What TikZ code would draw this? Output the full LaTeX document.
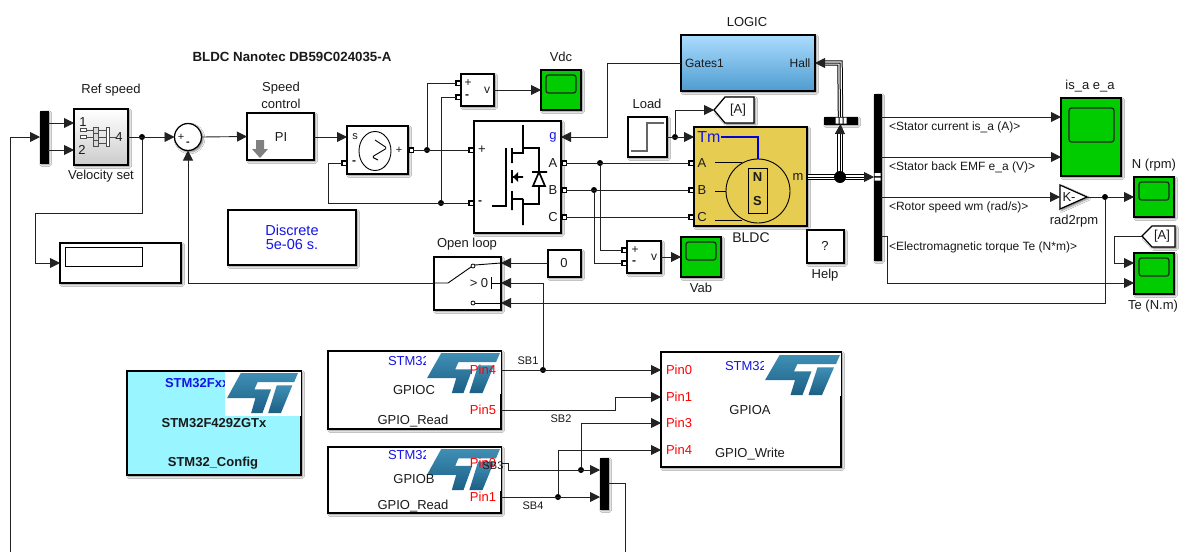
\documentclass[tikz,border=0pt]{standalone}
\usepackage{fontspec}
\setmainfont{Liberation Sans}
\usetikzlibrary{arrows.meta,shadows.blur,calc,shapes.geometric}
\definecolor{lc}{HTML}{222222}
\definecolor{tc}{HTML}{1A1A1A}
\definecolor{scopegreen}{HTML}{00CC00}
\definecolor{motorY}{HTML}{E6CC50}
\definecolor{blueT}{HTML}{1414E6}
\definecolor{logoT}{HTML}{3F8FB5}
\definecolor{logoB}{HTML}{1C5F85}
\definecolor{logicT}{HTML}{ACDCFF}
\definecolor{logicB}{HTML}{4E9CD0}
\definecolor{cfgC}{HTML}{99F5FF}
\newcount\tcnt
\newcommand\fs[1]{\fontsize{#1}{#1}\selectfont}
\newcommand\tx[4][]{\global\advance\tcnt by 1\relax\node[txt,#1] (t\the\tcnt) at (#2,#3) {#4};}
\newcommand\blk[6]{\pgfmathsetmacro\bw{#5-(#3)}\pgfmathsetmacro\bh{#6-(#4)}%
 \node[blockbase,#1,minimum width=\bw pt,minimum height=\bh pt] (#2) at ({(#3+#5)/2},{(#4+#6)/2}) {};}
\newcommand\scopeblk[9]{\blk{fill=scopegreen}{#1}{#2}{#3}{#4}{#5}%
 \draw[line width=1.3pt,rounded corners=2.5pt,draw=black!85] (#6,#7) rectangle (#8,#9);}
\newcommand\stlogo[4]{\begin{scope}[shift={(#1,#2)},x=#3pt,y=-#4pt]
 \shade[top color=logoT,bottom color=logoB]
  (.195,0)--(1,0)--(.945,.23)--(.43,.23)--(.386,.41)--(.62,.41)--(.50,1)--(.34,1)--(.40,.63)--(0,.63)--cycle;
 \shade[top color=logoT,bottom color=logoB]
  (.70,.31)--(.92,.31)--(.76,1)--(.58,1)--cycle;
 \end{scope}}
\tikzset{
 txt/.style={inner sep=0,outer sep=0,text=tc,font=\fs{13}},
 sig/.style={txt,font=\fs{12},anchor=west},
 conn/.style={draw=lc,line width=.9pt},
 arr/.style={conn,-{Triangle[length=10pt,width=10pt]}},
 shad/.style={blur shadow={shadow xshift=1.6pt,shadow yshift=-1.6pt,shadow blur radius=1.8pt,shadow opacity=50}},
 blockbase/.style={draw=black,line width=1.25pt,fill=white,inner sep=0,outer sep=0,shad},
 bar/.style={draw=black,fill=black,line width=.5pt},
 junction/.style={circle,fill=black,inner sep=0,outer sep=0,minimum size=6pt},
 portsq/.style={draw=black,fill=white,line width=1.2pt,inner sep=0,outer sep=0,minimum size=4.2pt},
 icon/.style={draw=black,line width=1.7pt},
 thin icon/.style={draw=black!70,line width=.7pt},
 bus/.style={draw=black,line width=5.4pt,postaction={draw=white,line width=3.4pt},postaction={draw=black,line width=1pt}},
}
\begin{document}
\begin{tikzpicture}[x=1pt,y=-1pt]
\fill[white] (0,0) rectangle (1179,552);
\useasboundingbox (0,0) rectangle (1179,552);

% ---------- title
\tx[font=\bfseries\fs{13.3}]{292}{57}{BLDC Nanotec DB59C024035-A}

% ---------- mux and reference
\blk{bar}{mux1}{40}{111}{48}{163}
\blk{top color=white,bottom color=black!20}{ref}{74}{109}{128}{165}
\tx{111}{90}{Ref speed}
\tx{101}{176}{Velocity set}
\tx{83}{122}{1}
\tx{82}{150}{2}
\tx{119}{137}{4}
\draw[thin icon] (83,130)--(93,130) (83,137)--(93,137) (98,130)--(107,130) (98,137)--(107,137) (98,143)--(107,143) (109,137)--(117,137);
\draw[thin icon,fill=white] (80,128.8) rectangle (86,131.2) (80,135.8) rectangle (86,138.2);
\draw[thin icon,fill=black!15] (93,127) rectangle (98.5,133.5) (93,133.5) rectangle (98.5,140) (93,140) rectangle (98.5,146.5);
\draw[thin icon,fill=white] (106,127) rectangle (109,146);

% ---------- sum, PI
\node[circle,draw=black,line width=1.25pt,fill=white,inner sep=0,outer sep=0,minimum size=27pt,shad] (sum) at (188,137) {};
\tx[font=\fs{11}]{181}{137}{+}
\tx[font=\bfseries\fs{11}]{188}{144}{-}
\blk{}{pi}{247}{113}{314}{160}
\tx{281}{88}{Speed}
\tx{281}{104}{control}
\tx{281}{137}{PI}
\fill[black!50] (256,140)--(264,140)--(264,149)--(268,149)--(260,158)--(252,149)--(256,149)--cycle;

% ---------- display and powergui
\blk{}{disp}{60}{243}{181}{283}
\draw[line width=.9pt,draw=black] (65,247) rectangle (142,266);
\blk{}{gui}{228}{210}{356}{265}
\tx[text=blueT,font=\fs{14.5}]{292}{230}{Discrete}
\tx[text=blueT,font=\fs{14.5}]{292}{245}{5e-06 s.}

% ---------- controlled voltage source
\blk{}{src}{347}{126}{408}{174}
\node[ellipse,draw=black,line width=.9pt,inner sep=0,outer sep=0,minimum width=32pt,minimum height=39pt] (srccirc) at (375,151) {};
\draw[line width=.9pt,draw=black,rounded corners=1.5pt] (375,140)--(387,148)--(372,157)--(378,160);
\tx[font=\fs{11}]{355}{137}{s}
\tx[font=\bfseries\fs{12}]{354}{163}{-}
\tx[font=\fs{11}]{399}{150}{+}
\node[portsq] (srcm) at (344,163) {};
\node[portsq] (srcp) at (411,150) {};

% ---------- voltmeter Vdc
\blk{}{vm}{461}{74}{494}{106}
\tx[font=\fs{12}]{468}{83}{+}
\tx[font=\bfseries\fs{12}]{467}{97}{-}
\tx[font=\fs{12}]{487}{90}{v}
\node[portsq] (vmp) at (458,83) {};
\node[portsq] (vmm) at (458,97) {};
\scopeblk{vdc}{541}{70}{581}{110}{546}{75}{576}{93}
\tx{561}{57}{Vdc}

% ---------- inverter
\blk{}{inv}{474}{121}{561}{233}
\node[portsq] (invp) at (471,150) {};
\node[portsq] (invm) at (471,203) {};
\node[portsq] (pa) at (564,163) {};
\node[portsq] (pb) at (564,190) {};
\node[portsq] (pc) at (564,217) {};
\tx[text=blueT]{553}{137}{g}
\tx{482}{150}{+}
\tx[font=\bfseries\fs{12}]{480}{203}{-}
\tx{553}{163}{A}
\tx{553}{190}{B}
\tx{553}{217}{C}
\draw[icon] (523,125)--(523,153)--(512,153) (523,148)--(539,148)--(539,172) (532,172)--(547,172)
 (539,172)--(533,186)--(545,186)--cycle (539,186)--(539,204)--(523,204)
 (506,148)--(506,206)--(492,206) (512,148)--(512,163) (512,170)--(512,183) (512,191)--(512,210)
 (512,199)--(523,199) (523,199)--(523,225) (513,177)--(523,177);
\fill[black] (513,177)--(518,172)--(518,182)--cycle;

% ---------- LOGIC
\blk{top color=logicT,bottom color=logicB}{logic}{681}{35}{815}{91}
\tx{747}{22}{LOGIC}
\tx[font=\fs{12}]{704.5}{63}{Gates1}
\tx[font=\fs{12}]{800}{63}{Hall}

% ---------- step and goto
\blk{}{load}{628}{117}{667}{157}
\tx{647}{104}{Load}
\draw[draw=black!60,line width=1.2pt] (631,151)--(647,151)--(647,123)--(664,123);
\draw[blockbase] (714,110)--(725,97)--(754,97)--(754,123)--(725,123)--cycle;
\coordinate (gotoA) at (714,110);
\tx{738}{110}{[A]}

% ---------- BLDC
\blk{fill=motorY}{bldc}{694}{127}{807}{226}
\node[circle,draw=black,line width=.9pt,inner sep=0,outer sep=0,minimum size=64pt] (rotor) at (758,191) {};
\draw[line width=.9pt,draw=black] (748,168) rectangle (767,213);
\draw[line width=.9pt,draw=black] (715,162)--(742,162) (715,191)--(726,191) (715,220)--(742,220);
\draw[draw=blue!85!black,line width=1.3pt] (721,137)--(758,137)--(rotor.north);
\tx[text=blueT,font=\fs{16}]{709}{137}{Tm}
\tx{702}{163}{A}
\tx{702}{190}{B}
\tx{702}{217}{C}
\tx{798}{177}{m}
\tx[font=\bfseries\fs{13}]{757.5}{177}{N}
\tx[font=\bfseries\fs{13}]{757.5}{201}{S}
\tx[font=\fs{14}]{751}{238}{BLDC}
\node[portsq] (ma) at (691,163) {};
\node[portsq] (mb) at (691,190) {};
\node[portsq] (mc) at (691,217) {};

% ---------- Vab
\blk{}{vm2}{627}{241}{661}{273}
\tx[font=\fs{12}]{635}{250}{+}
\tx[font=\bfseries\fs{12}]{634}{263}{-}
\tx[font=\fs{12}]{654}{257}{v}
\node[portsq] (vm2p) at (624,250) {};
\node[portsq] (vm2m) at (624,263) {};
\scopeblk{vab}{681}{237}{721}{277}{686}{242}{716}{260}
\tx{701}{288}{Vab}

% ---------- help
\blk{}{help}{807}{230}{844}{263}
\tx{825}{246}{?}
\tx{825}{275}{Help}

% ---------- demux bars
\blk{bar}{dm}{824}{117}{857}{124}
\fill[white] (835.5,117.5) rectangle (838.5,123.5) (839.5,117.5) rectangle (842.5,123.5) (843.5,117.5) rectangle (846.5,123.5);
\blk{bar}{bs}{874}{94}{881}{260}
\fill[white] (874.5,173) rectangle (880.5,176) (874.5,177.5) rectangle (880.5,180.5);

% ---------- right side scopes
\scopeblk{isa}{1061}{98}{1121}{176}{1069}{108}{1114}{142}
\tx{1090}{86}{is\_a e\_a}
\scopeblk{nrpm}{1134}{177}{1174}{217}{1139}{182}{1169}{200}
\tx{1154}{165}{N (rpm)}
\scopeblk{te}{1134}{253}{1174}{294}{1139}{258}{1169}{276}
\tx{1153}{306}{Te (N.m)}
\draw[blockbase] (1060,185)--(1087,197)--(1060,209)--cycle;
\coordinate (gainIn) at (1060,197);
\coordinate (gainOut) at (1087,197);
\tx{1069}{197}{K-}
\tx{1074}{221}{rad2rpm}
\draw[blockbase] (1142,236)--(1152,226)--(1175,226)--(1175,247)--(1152,247)--cycle;
\coordinate (fromA) at (1142,236);
\tx{1162}{236}{[A]}
\node[sig] (s1) at (889,127) {<Stator current is\_a (A)>};
\node[sig] (s2) at (889,167) {<Stator back EMF e\_a (V)>};
\node[sig] (s3) at (889,207) {<Rotor speed wm (rad/s)>};
\node[sig] (s4) at (889,247) {<Electromagnetic torque Te (N*m)>};

% ---------- switch and constant
\blk{}{sw}{434}{257}{501}{310}
\tx{467}{244}{Open loop}
\blk{}{zero}{548}{250}{581}{277}
\tx{564}{263}{0}
\draw[line width=.9pt,draw=black] (434,283)--(448,283)--(471,267);
\draw[line width=.9pt,draw=black] (475,265)--(501,263);
\node[circle,draw=black,line width=.8pt,fill=white,inner sep=0,minimum size=4pt] (swa) at (473,266) {};
\node[circle,draw=black,line width=.8pt,fill=white,inner sep=0,minimum size=4pt] (swb) at (473,303) {};
\draw[line width=.9pt,draw=black] (swb.east)--(501,303);
\tx{479}{283}{> 0}
\draw[line width=.9pt,draw=black] (491,277)--(491,289) (491,283)--(501,283);

% ---------- STM32 blocks
\blk{fill=cfgC}{cfg}{127}{371}{301}{475}
\tx[font=\bfseries\fs{13},text=blueT,anchor=west]{165}{383}{STM32Fxx}
\fill[white] (225,372) rectangle (300.5,416);
\stlogo{227}{373}{71}{40}
\tx[font=\bfseries\fs{13}]{214}{423}{STM32F429ZGTx}
\tx[font=\bfseries\fs{13}]{213}{463}{STM32\_Config}

\blk{}{gpc}{328}{351}{501}{429}
\tx[text=blueT,anchor=west]{388}{361}{STM32}
\fill[white] (426,352) rectangle (500.5,394);
\stlogo{427}{353}{73}{40}
\tx{414}{390}{GPIOC}
\tx{413}{421}{GPIO\_Read}
\tx[text=red]{483}{370}{Pin4}
\tx[text=red]{483}{410}{Pin5}

\blk{}{gpb}{328}{447}{501}{513}
\tx[text=blueT,anchor=west]{388}{455}{STM32}
\fill[white] (426,448) rectangle (500.5,491);
\stlogo{427}{449}{73}{41}
\tx{414}{479}{GPIOB}
\tx{413}{506}{GPIO\_Read}
\tx[text=red]{483}{463}{Pin0}
\tx[text=red]{483}{497}{Pin1}

\blk{}{gpa}{661}{352}{841}{467}
\tx[text=blueT,anchor=west]{725}{366}{STM32}
\fill[white] (764,353) rectangle (840.5,396);
\stlogo{765}{355}{75}{40}
\tx{750}{410}{GPIOA}
\tx{750}{454}{GPIO\_Write}
\tx[text=red,anchor=west]{666}{370}{Pin0}
\tx[text=red,anchor=west]{666}{397}{Pin1}
\tx[text=red,anchor=west]{666}{423}{Pin3}
\tx[text=red,anchor=west]{666}{450}{Pin4}
\blk{bar}{mux2}{600}{458}{608}{509}

% ---------- junctions
\node[junction] (j1) at (142,137) {};
\node[junction] (j427) at (427,150) {};
\node[junction] (j441) at (441,203) {};
\node[junction] (j600) at (600,163) {};
\node[junction] (j594) at (594,190) {};
\node[junction] (j675) at (675,137) {};
\node[junction] (j1105) at (1105,197) {};
\node[junction] (j543) at (543,370) {};
\node[junction] (j581) at (581,470) {};
\node[junction] (j558) at (558,497) {};

% ---------- helper coordinates
\coordinate (fbB) at (10,552);
\coordinate (refin1) at (74,123);
\coordinate (refin2) at (74,150);
\coordinate (c35) at (35,213);
\coordinate (dispin) at (60,263);
\coordinate (srcs) at (347,137);
\coordinate (c328) at (328,203);
\coordinate (logicg) at (681,63);
\coordinate (logich) at (815,63);
\coordinate (c607) at (607,137);
\coordinate (invg) at (561,137);
\coordinate (bldctm) at (694,137);
\coordinate (isa1) at (1061,117);
\coordinate (isa2) at (1061,157);
\coordinate (c887) at (887,236);
\coordinate (te1) at (1134,263);
\coordinate (te2) at (1134,283);
\coordinate (c1114) at (1114,263);
\coordinate (sw1) at (501,263);
\coordinate (sw2) at (501,283);
\coordinate (sw3) at (501,303);
\coordinate (gap0) at (661,370);
\coordinate (gap1) at (661,397);
\coordinate (gap3) at (661,423);
\coordinate (gap4) at (661,450);
\coordinate (gcp4) at (501,370);
\coordinate (gcp5) at (501,410);
\coordinate (c615) at (615,397);
\coordinate (gbp0) at (501,463);
\coordinate (gbp1) at (501,497);
\coordinate (c508) at (508,470);
\coordinate (muxin1) at (600,470);
\coordinate (muxin2) at (600,497);
\coordinate (muxB) at (625,552);

% ---------- connectors
\draw[arr] (fbB) |- (mux1.west);
\draw[arr] (mux1.east |- refin1) -- (refin1);
\draw[arr] (mux1.east |- refin2) -- (refin2);
\draw[arr] (ref.east) -- (sum.west);
\draw[arr] (j1) |- (c35) |- (dispin);
\draw[arr] (sum.east) -- (pi.west);
\draw[arr] (pi.east |- srcs) -- (srcs);
\draw[conn] (srcm.west) -| (c328) -- (invm.west);
\draw[conn] (srcp.east) -- (invp.west);
\draw[conn] (j427) |- (vmp.west);
\draw[conn] (j441) |- (vmm.west);
\draw[arr] (vm.east) -- (vdc.west);
\draw[arr] (logicg) -| (c607) -- (invg);
\draw[conn] (pa.east) -- (ma.west);
\draw[conn] (pb.east) -- (mb.west);
\draw[conn] (pc.east) -- (mc.west);
\draw[conn] (j600) |- (vm2p.west);
\draw[conn] (j594) |- (vm2m.west);
\draw[arr] (vm2.east) -- (vab.west);
\draw[arr] (load.east) -- (bldctm);
\draw[arr] (j675) |- (gotoA);
\draw[arr] (bs.east |- isa1) -- (isa1);
\draw[arr] (bs.east |- isa2) -- (isa2);
\draw[arr] (bs.east |- gainIn) -- (gainIn);
\draw[conn] (gainOut) -- (j1105);
\draw[arr] (j1105) -- (nrpm.west);
\draw[arr] (fromA) -| (c1114) -- (te1);
\draw[arr] (bs.east |- c887) -- (c887) |- (te2);
\draw[arr] (j1105) |- (sw3);
\draw[arr] (j543) |- (sw2);
\draw[arr] (zero.west |- sw1) -- (sw1);
\draw[arr] (sw.west |- sw2) -| (sum.south);
\draw[arr] (gcp4) -- (gap0);
\draw[arr] (gcp5) -| (c615) -- (gap1);
\draw[conn] (gbp0) -| (c508);
\draw[arr] (c508) -- (muxin1);
\draw[arr] (j581) |- (gap3);
\draw[arr] (gbp1) -- (muxin2);
\draw[arr] (j558) |- (gap4);
\draw[conn] (mux2.east) -| (muxB);

% ---------- three-phase measurement bus
\coordinate (mOut) at (807.5,177);
\coordinate (arrH) at (823,63);
\coordinate (arrD) at (840,134);
\coordinate (arrB) at (865,177);
\coordinate (topD) at (840,63);
\coordinate (jmc) at (840,177);
\draw[bus] (mOut) -- (arrB);
\draw[bus] (arrD) -- (jmc);
\draw[bus] (dm.north) -- (topD) -- (arrH);
\draw[arr] (arrB) -- (bs.west |- arrB);
\draw[arr] (arrD) -- (dm.south);
\draw[arr] (arrH) -- (logich);
\node[circle,fill=black,inner sep=0,outer sep=0,minimum size=12pt] (jm) at (jmc) {};

% ---------- wire labels
\tx[font=\fs{11}]{528}{361}{SB1}
\tx[font=\fs{11}]{561}{419}{SB2}
\tx[font=\fs{11}]{493}{466}{SB3}
\tx[font=\fs{11}]{533}{506}{SB4}
\end{tikzpicture}
\end{document}
